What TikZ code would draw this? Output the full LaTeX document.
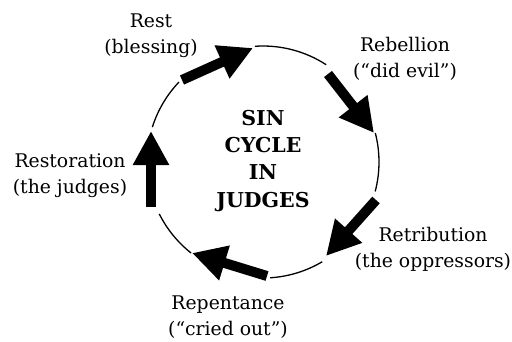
\documentclass[tikz,border=0pt]{standalone}
\usepackage{fontspec}
\setmainfont{DejaVu Serif}
\usetikzlibrary{arrows.meta}
\begin{document}
\begin{tikzpicture}[x=1pt,y=-1pt,
  bigarrow/.style={line width=10pt,-{Triangle[length=34pt,width=34pt]}},
  ring/.style={line width=1.3pt},
  lbl/.style={align=center,inner sep=0pt,anchor=base,font=\fontsize{18.8}{25.5}\selectfont},
  title/.style={align=center,inner sep=0pt,anchor=base,font=\fontsize{20.5}{27.3}\selectfont\bfseries}]
\useasboundingbox (0,0) rectangle (512,341);
\coordinate (c) at (263,162);
% arrow ends
\coordinate (a1s) at (182,80);  \coordinate (a1e) at (253,48);
\coordinate (a2s) at (328,74);  \coordinate (a2e) at (374,133);
\coordinate (a3s) at (376,200); \coordinate (a3e) at (326,256);
\coordinate (a4s) at (267,276); \coordinate (a4e) at (192,253);
\coordinate (a5s) at (151,207); \coordinate (a5e) at (151,131);
\draw[bigarrow] (a1s) -- (a1e);
\draw[bigarrow] (a2s) -- (a2e);
\draw[bigarrow] (a3s) -- (a3e);
\draw[bigarrow] (a4s) -- (a4e);
\draw[bigarrow] (a5s) -- (a5e);
% arcs
\draw[ring] (c) ++(-94:116) arc[start angle=-94,end angle=-57,radius=116];
\draw[ring] (c) ++(-14.5:116) arc[start angle=-14.5,end angle=14.7,radius=116];
\draw[ring] (c) ++(59.3:116) arc[start angle=59.3,end angle=86.5,radius=116];
\draw[ring] (c) ++(128.3:116) arc[start angle=128.3,end angle=153.4,radius=116];
\draw[ring] (c) ++(197.5:116) arc[start angle=197.5,end angle=223.6,radius=116];
% labels (anchored at the baseline of the last line)
\node[lbl] (rest) at (151,53) {Rest\\(blessing)};
\node[lbl] (rebel) at (405,77) {Rebellion\\(“did evil”)};
\node[lbl] (retri) at (433,267) {Retribution\\(the oppressors)};
\node[lbl] (repent) at (228,335) {Repentance\\(“cried out”)};
\node[lbl] (resto) at (70,193) {Restoration\\(the judges)};
\node[title] (sin) at (263,207) {SIN\\CYCLE\\IN\\JUDGES};
\end{tikzpicture}
\end{document}
